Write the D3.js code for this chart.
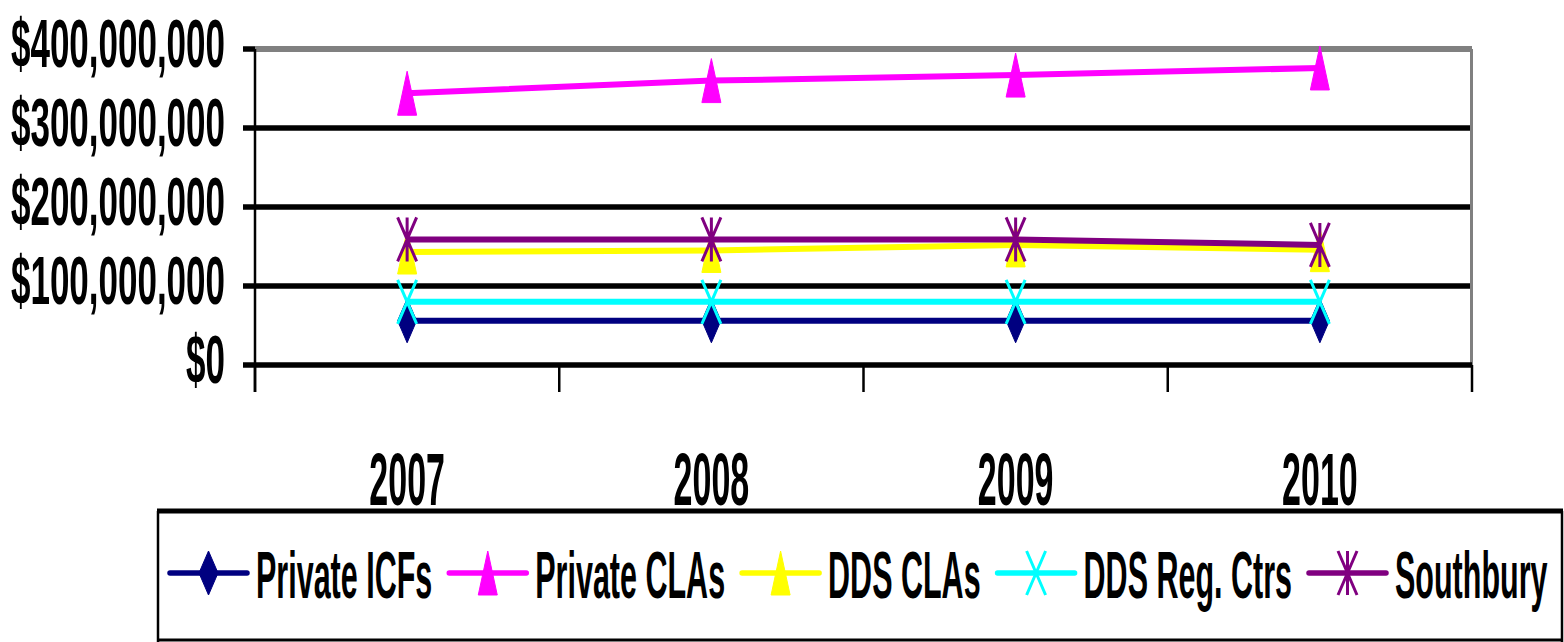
<!DOCTYPE html>
<html>
<head>
<meta charset="utf-8">
<script src="https://cdn.jsdelivr.net/npm/d3@7"></script>
<style>
  html, body { margin: 0; padding: 0; background: #fff; }
  svg { display: block; }
  text { font-family: "Liberation Sans", Arial, sans-serif; font-weight: bold; fill: #000; }
</style>
</head>
<body>
<svg id="chart" width="1564" height="642"></svg>
<script>
// Spending by setting, 2007-2010
const years = ["2007", "2008", "2009", "2010"];
const privateICFs   = [56e6, 56e6, 56e6, 56e6];
const privateCLAs   = [344e6, 360e6, 367e6, 376e6];
const ddsCLAs       = [143e6, 145e6, 152e6, 146e6];
const ddsRegCtrs    = [80e6, 80e6, 80e6, 80e6];
const southbury     = [159e6, 159e6, 159e6, 152e6];

const seriesNames   = ["Private ICFs", "Private CLAs", "DDS CLAs", "DDS Reg. Ctrs", "Southbury"];
const seriesColors  = ["#000080", "#FF00FF", "#FFFF00", "#00FFFF", "#800080"];
const seriesMarkers = ["diamond", "triangle", "triangle", "cross", "star"];
const seriesValues  = [privateICFs, privateCLAs, ddsCLAs, ddsRegCtrs, southbury];

const yTicks = [0, 100e6, 200e6, 300e6, 400e6];
const yTickLabels = ["$0", "$100,000,000", "$200,000,000", "$300,000,000", "$400,000,000"];

const STRETCH = 2.2;   // tall, narrow lettering
const svg = d3.select("#chart");
svg.append("rect").attr("width", 1564).attr("height", 642).attr("fill", "#fff");

const plot = { left: 255, right: 1472, top: 49, bottom: 365 };

const x = d3.scaleBand().domain(years).range([plot.left, plot.right]);
const xc = d => x(d) + x.bandwidth() / 2;
const y = d3.scaleLinear().domain([0, 400e6]).range([plot.bottom, plot.top]);

// Marker shapes, centred at 0,0
function markerPath(type) {
  const w = 9.5, h = 22;
  switch (type) {
    case "diamond":  return `M0,${-h}L${w},0L0,${h}L${-w},0Z`;
    case "triangle": return `M0,${-h}L${w},${h}L${-w},${h}Z`;
    case "cross":    return `M${-w},${-h}L${w},${h}M${w},${-h}L${-w},${h}`;
    case "star":     return `M${-w},${-h}L${w},${h}M${w},${-h}L${-w},${h}M0,${-h}L0,${h}`;
  }
}
function drawMarker(g, type, color, cx, cy) {
  const filled = type === "diamond" || type === "triangle";
  g.append("path")
    .attr("d", markerPath(type))
    .attr("transform", `translate(${cx},${cy})`)
    .attr("fill", filled ? color : "none")
    .attr("stroke", color)
    .attr("stroke-width", filled ? 1 : 3)
    .attr("stroke-linejoin", "round");
}

// Gridlines and frame
const grid = svg.append("g");
yTicks.filter(t => t > 0 && t < 400e6).forEach(t => {
  grid.append("line").attr("x1", plot.left).attr("x2", plot.right)
    .attr("y1", y(t)).attr("y2", y(t)).attr("stroke", "#000").attr("stroke-width", 5.5);
});
grid.append("line").attr("x1", plot.left).attr("x2", plot.right)
  .attr("y1", y(400e6)).attr("y2", y(400e6)).attr("stroke", "#808080").attr("stroke-width", 6);
grid.append("line").attr("x1", plot.right - 0.5).attr("x2", plot.right - 0.5)
  .attr("y1", y(400e6)).attr("y2", y(0)).attr("stroke", "#808080").attr("stroke-width", 3);

// Y axis
const yAxis = svg.append("g");
yAxis.append("line").attr("x1", plot.left).attr("x2", plot.left)
  .attr("y1", plot.top).attr("y2", plot.bottom + 27).attr("stroke", "#000").attr("stroke-width", 2.5);
yTicks.forEach((t, i) => {
  yAxis.append("line").attr("x1", plot.left - 12).attr("x2", plot.left)
    .attr("y1", y(t)).attr("y2", y(t)).attr("stroke", "#000").attr("stroke-width", 5.5);
  yAxis.append("text")
    .attr("transform", `translate(225,${y(t) + 18}) scale(1,1.95)`)
    .attr("text-anchor", "end")
    .style("font-size", "35px")
    .text(yTickLabels[i]);
});

// X axis
const xAxis = svg.append("g");
xAxis.append("line").attr("x1", plot.left).attr("x2", plot.right)
  .attr("y1", y(0)).attr("y2", y(0)).attr("stroke", "#000").attr("stroke-width", 5.5);
years.concat(["end"]).forEach((d, i) => {
  const xp = i < years.length ? x(d) : x(years[years.length - 1]) + x.bandwidth();
  xAxis.append("line").attr("x1", xp).attr("x2", xp)
    .attr("y1", y(0)).attr("y2", y(0) + 27).attr("stroke", "#000").attr("stroke-width", 2.5);
});
years.forEach(d => {
  xAxis.append("text")
    .attr("transform", `translate(${xc(d)},505) scale(1,${STRETCH})`)
    .attr("text-anchor", "middle")
    .style("font-size", "34px")
    .text(d);
});

// Series lines and markers
const line = d3.line().x((v, i) => xc(years[i])).y(v => y(v));
const seriesG = svg.append("g");
seriesValues.forEach((vals, s) => {
  const g = seriesG.append("g");
  g.append("path").datum(vals).attr("d", line)
    .attr("fill", "none").attr("stroke", seriesColors[s]).attr("stroke-width", 6)
    .attr("stroke-linejoin", "round");
  vals.forEach((v, i) => drawMarker(g, seriesMarkers[s], seriesColors[s], xc(years[i]), y(v)));
});

// Legend
const legend = svg.append("g");
legend.append("rect").attr("x", 158).attr("y", 511).attr("width", 1404).attr("height", 129).attr("fill", "#fff");
legend.append("line").attr("x1", 157).attr("x2", 1563).attr("y1", 511).attr("y2", 511).attr("stroke", "#000").attr("stroke-width", 5);
legend.append("line").attr("x1", 157).attr("x2", 1563).attr("y1", 640).attr("y2", 640).attr("stroke", "#000").attr("stroke-width", 3);
legend.append("line").attr("x1", 158).attr("x2", 158).attr("y1", 511).attr("y2", 642).attr("stroke", "#000").attr("stroke-width", 2.5);
legend.append("line").attr("x1", 1562).attr("x2", 1562).attr("y1", 511).attr("y2", 642).attr("stroke", "#000").attr("stroke-width", 2.5);

let lx = 170;
const ly = 573;
seriesNames.forEach((name, s) => {
  const g = legend.append("g");
  g.append("line").attr("x1", lx).attr("x2", lx + 77).attr("y1", ly).attr("y2", ly)
    .attr("stroke", seriesColors[s]).attr("stroke-width", 5.5).attr("stroke-linecap", "round");
  drawMarker(g, seriesMarkers[s], seriesColors[s], lx + 38.5, ly);
  const t = g.append("text")
    .attr("transform", `translate(${lx + 86},598) scale(1,${STRETCH})`)
    .style("font-size", "30.5px")
    .text(name);
  lx = lx + 86 + t.node().getComputedTextLength() + 17;
});
</script>
</body>
</html>
